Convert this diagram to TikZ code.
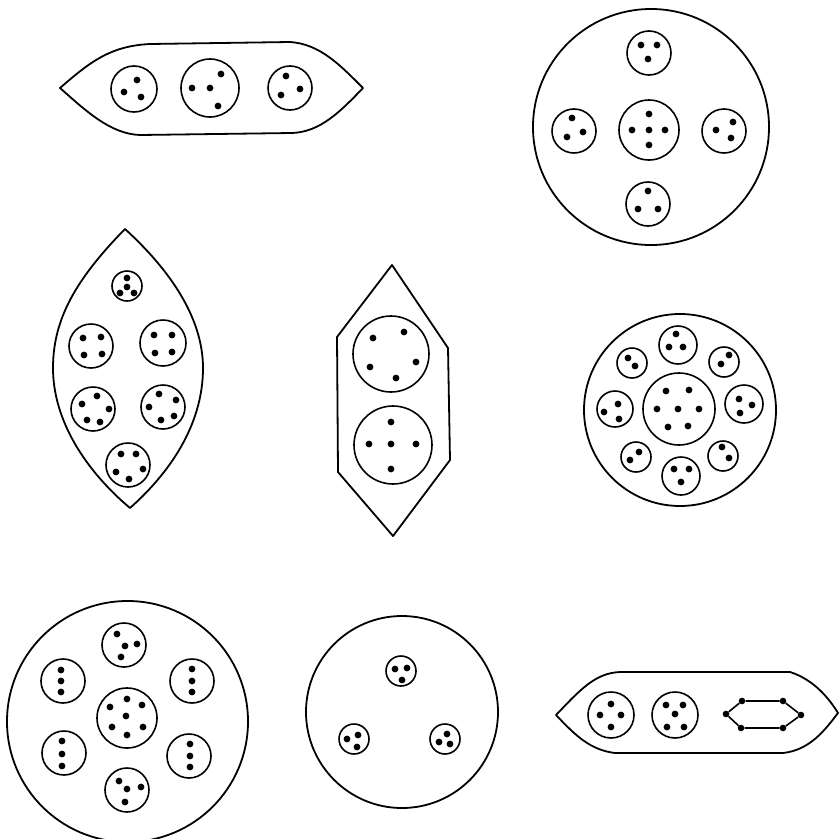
\documentclass[tikz,border=0pt]{standalone}
\usepackage{xcolor}

\tikzset{
  wall/.style={line width=1.8pt,line join=round},
  cell/.style={line width=1.6pt},
  dot/.style={circle,fill=black,inner sep=0pt,minimum size=6.6pt},
}

\begin{document}
\begin{tikzpicture}[x=1pt,y=-1pt]
  \useasboundingbox (0,0) rectangle (840,838);

  % top left: spindle with three cells
  \draw[wall] (60,88) .. controls (90,62) and (110,46) .. (150,44) -- (290,42)
    .. controls (320,44) and (340,65) .. (363,88)
    .. controls (340,112) and (320,132) .. (292,133) -- (140,135)
    .. controls (110,134) and (85,110) .. (60,88) -- cycle;
  \draw[cell] (134,89) circle (23pt) (210,88) circle (29pt) (290,88) circle (22pt);
  \foreach \p in {(137,80),(124,92),(141,97),
                  (221,74),(192,88),(210,88),(218,106),
                  (286,76),(300,89),(281,95)}
    \fill \p circle (3.4pt);

  % top right: disc with cross of cells
  \draw[wall] (651,127) circle (118pt);
  \draw[cell] (649,53) circle (22pt) (574,131) circle (22pt) (649,130) circle (30pt)
    (724,131) circle (22pt) (648,204) circle (22pt);
  \foreach \p in {(641,45),(657,45),(648,59),
                  (572,118),(583,132),(567,137),
                  (649,114),(632,130),(649,130),(665,130),(649,145),
                  (733,122),(716,130),(731,138),
                  (648,191),(638,209),(658,209)}
    \fill \p circle (3.4pt);

  % middle left: lens with six cells
  \draw[wall] (125,229) .. controls (75,280) and (53,320) .. (53,368)
    .. controls (53,420) and (85,470) .. (130,508)
    .. controls (175,468) and (203,420) .. (203,368)
    .. controls (203,318) and (170,270) .. (125,229) -- cycle;
  \draw[cell] (127,286) circle (15pt) (91,346) circle (22pt) (163,343) circle (23pt)
    (93,409) circle (22pt) (163,407) circle (22pt) (128,465) circle (22pt);
  \foreach \p in {(127,278),(127,287),(120,293),(134,293),
                  (83,338),(101,337),(84,355),(102,354),
                  (154,335),(172,335),(155,353),(172,352),
                  (97,396),(82,404),(109,409),(87,420),(100,422),
                  (159,394),(176,400),(149,407),(161,420),(174,416),
                  (121,454),(136,454),(116,472),(143,469),(129,479)}
    \fill \p circle (3.4pt);

  % middle: pointed box with two cells
  \draw[wall] (392,265) -- (337,337) -- (338,472) -- (393,536) -- (450,460)
    -- (448,348) -- cycle;
  \draw[cell] (391,354) circle (38pt) (393,445) circle (39pt);
  \foreach \p in {(373,338),(404,332),(370,367),(416,362),(396,378),
                  (391,422),(369,444),(391,444),(416,444),(391,469)}
    \fill \p circle (3.4pt);

  % middle right: disc with ring of cells
  \draw[wall] (680,410) circle (96pt);
  \draw[cell] (679,409) circle (36pt) (678,345) circle (19pt) (632,363) circle (15pt)
    (724,362) circle (15pt) (615,409) circle (18pt) (744,404) circle (19pt)
    (636,457) circle (15pt) (723,456) circle (15pt) (681,476) circle (19pt);
  \foreach \p in {(666,391),(689,390),(657,409),(678,409),(699,409),(668,427),(688,426),
                  (676,334),(669,347),(683,347),
                  (628,358),(635,366),
                  (729,355),(721,364),
                  (618,404),(604,412),(619,419),
                  (739,399),(752,405),(740,413),
                  (639,452),(630,460),
                  (722,447),(729,458),
                  (674,469),(689,469),(681,482)}
    \fill \p circle (3.4pt);

  % bottom left: disc with seven cells
  \draw[wall] (127.5,721.5) circle (120.5pt);
  \draw[cell] (127,718) circle (30pt) (124,645) circle (22pt) (63,681) circle (22pt)
    (192,681) circle (22pt) (64,753) circle (22pt) (189,756) circle (22pt)
    (127,790) circle (22pt);
  \foreach \p in {(127,699),(110,707),(142,705),(126,716),(112,727),(143,727),(127,735),
                  (117,634),(125,646),(137,644),(121,657),
                  (61,670),(61,681),(61,692),
                  (192,669),(192,681),(192,692),
                  (62,741),(62,754),(62,766),
                  (190,744),(190,756),(190,767),
                  (119,781),(127,789),(141,787),(125,802)}
    \fill \p circle (3.4pt);

  % bottom middle: disc with three small cells
  \draw[wall] (402,712) circle (96pt);
  \draw[cell] (401,671) circle (15pt) (354,739) circle (15pt) (445,739) circle (15pt);
  \foreach \p in {(395,669),(407,668),(402,680),
                  (347,739),(358,735),(357,747),
                  (447,734),(439,742),(450,744)}
    \fill \p circle (3.4pt);

  % bottom right: spindle with two cells and a ring
  \draw[wall] (556,715) .. controls (580,690) and (595,673) .. (620,672) -- (790,672)
    .. controls (815,680) and (830,700) .. (838,713)
    .. controls (825,730) and (810,750) .. (783,753) -- (615,753)
    .. controls (590,750) and (575,735) .. (556,715) -- cycle;
  \draw[cell] (611,715) circle (23pt) (675,715) circle (23pt);
  \foreach \p in {(611,704),(600,715),(621,715),(611,727),
                  (666,705),(683,705),(675,714),(667,727),(684,727)}
    \fill \p circle (3.4pt);
  \node[dot] (h1) at (726,714) {};
  \node[dot] (h2) at (742,701) {};
  \node[dot] (h3) at (783,701) {};
  \node[dot] (h4) at (801,715) {};
  \node[dot] (h5) at (783,728) {};
  \node[dot] (h6) at (741,728) {};
  \draw[cell] (h1) -- (h2) -- (h3) -- (h4) -- (h5) -- (h6) -- (h1);
\end{tikzpicture}
\end{document}
